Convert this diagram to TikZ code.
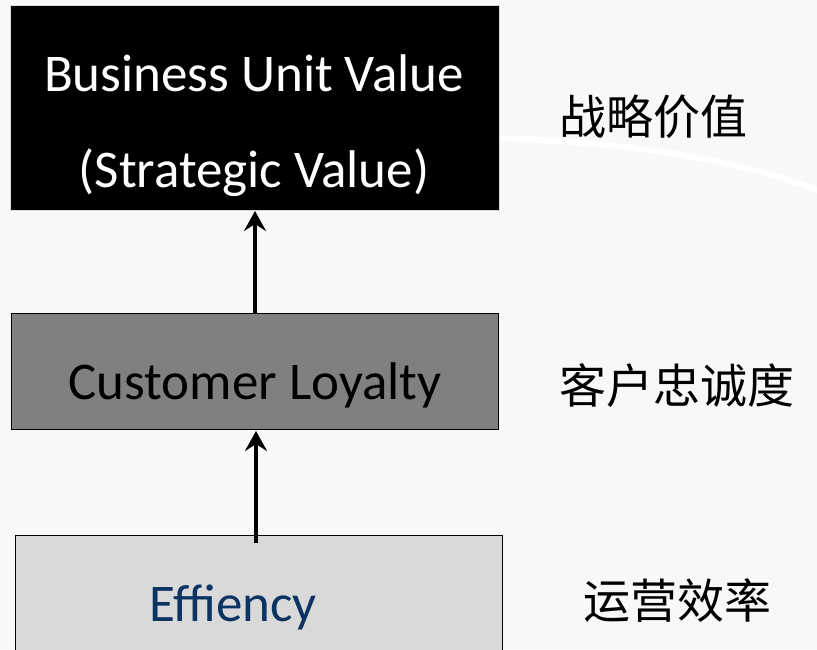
\documentclass[tikz,border=0pt]{standalone}
\usepackage{fontspec}
\setmainfont{Carlito}
\newfontfamily\cjk{Noto Sans CJK SC}
\usetikzlibrary{arrows.meta}
\definecolor{bgc}{HTML}{F3F3F3}
\definecolor{midgray}{HTML}{808080}
\definecolor{lightbox}{HTML}{D9D9D9}
\definecolor{effblue}{HTML}{0B3463}
\tikzset{
  box/.style={draw, line width=1pt, inner sep=0pt, anchor=north west},
  eng/.style={font=\fontsize{53}{96}\selectfont, align=center},
  chn/.style={font=\cjk\fontsize{47}{50}\selectfont, anchor=west},
  uparrow/.style={line width=3.5pt, -{Stealth[length=20pt,width=22pt,inset=7pt]}}
}
\begin{document}
\begin{tikzpicture}[x=1pt,y=-1pt]
\useasboundingbox (0,0) rectangle (817,649);
\fill[bgc!60!white] (0,0) rectangle (817,649);
\draw[white, line width=6pt, line cap=round] (480,138) .. controls (620,140) and (740,160) .. (817,190);
% boxes
\node[box, fill=black, draw=lightbox, minimum width=489pt, minimum height=205pt] (bu) at (10,5) {};
\node[eng, text=white] (butxt) at (254,126) {Business Unit Value\\(Strategic Value)};
\node[box, fill=midgray, draw=black, minimum width=487pt, minimum height=116pt] (cl) at (11,313) {};
\node[eng, text=black] (cltxt) at (255,385) {Customer Loyalty};
\node[box, fill=lightbox, draw=black, minimum width=487pt, minimum height=130pt] (ef) at (15,535) {};
\node[eng, text=effblue] (eftxt) at (233,607) {Effiency};
% chinese labels
\node[chn] (c1) at (556,117) {战略价值};
\node[chn] (c2) at (556,386) {客户忠诚度};
\node[chn] (c3) at (580,601) {运营效率};
% arrows
\coordinate (a1s) at (255,313);
\coordinate (a1e) at (255,211);
\coordinate (a2s) at (256,543);
\coordinate (a2e) at (256,431);
\draw[uparrow] (a1s) -- (a1e);
\draw[uparrow] (a2s) -- (a2e);
\end{tikzpicture}
\end{document}
